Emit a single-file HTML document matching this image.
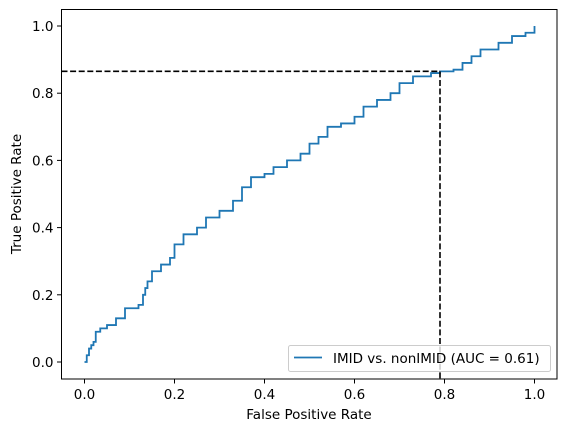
<!DOCTYPE html>
<html><head><meta charset="utf-8"><style>
body{margin:0;background:#fff}
svg text{font-family:"DejaVu Sans","Liberation Sans",sans-serif;font-size:13.5px;fill:#000}
</style></head><body>
<svg width="567" height="432" xmlns="http://www.w3.org/2000/svg">
<g id="g"></g>
</svg>
<script>
const fprValues=[0,0.005,0.01,0.015,0.02,0.025,0.035,0.05,0.07,0.09,0.12,0.13,0.135,0.14,0.15,0.17,0.19,0.2,0.22,0.25,0.27,0.3,0.33,0.35,0.37,0.4,0.42,0.45,0.48,0.5,0.52,0.54,0.57,0.6,0.62,0.65,0.68,0.7,0.73,0.77,0.79,0.82,0.84,0.86,0.88,0.92,0.95,0.98,1];
const tprValues=[0,0.02,0.04,0.05,0.06,0.09,0.1,0.11,0.13,0.16,0.17,0.2,0.22,0.24,0.27,0.29,0.31,0.35,0.38,0.4,0.43,0.45,0.48,0.52,0.55,0.56,0.58,0.6,0.62,0.65,0.67,0.70,0.71,0.73,0.76,0.78,0.8,0.83,0.85,0.86,0.865,0.87,0.89,0.91,0.93,0.95,0.97,0.98,1];
const xTicks=[0,0.2,0.4,0.6,0.8,1.0];
const yTicks=[0,0.2,0.4,0.6,0.8,1.0];
const cutFpr=0.79, cutTpr=0.865;
const X=v=>84.5+v*450, Y=v=>362-v*336;
const L=61.5,R=557,T=9.5,B=379;
const g=document.getElementById('g');const NS='http://www.w3.org/2000/svg';
function mk(t,a,txt){const e=document.createElementNS(NS,t);for(const k in a)e.setAttribute(k,a[k]);if(txt!==undefined)e.textContent=txt;g.appendChild(e);return e;}
let d=`M${X(fprValues[0])},${Y(tprValues[0])}`;
for(let i=1;i<fprValues.length;i++){d+=` H${X(fprValues[i])} V${Y(tprValues[i])}`;}
const c=mk('path',{d:d,fill:'none',stroke:'#1f77b4','stroke-width':1.8});


const h=mk('line',{x1:L,x2:X(cutFpr),y1:Y(cutTpr),y2:Y(cutTpr),stroke:'#000','stroke-width':1.6,'stroke-dasharray':'6,2.6'});


const v=mk('line',{x1:X(cutFpr),x2:X(cutFpr),y1:Y(cutTpr),y2:B,stroke:'#000','stroke-width':1.6,'stroke-dasharray':'6,2.6'});


const fr=mk('rect',{x:L,y:T,width:R-L,height:B-T,fill:'none',stroke:'#000','stroke-width':1});


xTicks.forEach(t=>{mk('line',{x1:X(t),x2:X(t),y1:B,y2:B+4.5,stroke:'#000'});
const e=mk('text',{x:X(t),y:B+20,'text-anchor':'middle'},t.toFixed(1));

});
yTicks.forEach(t=>{mk('line',{x1:L,x2:L-4.5,y1:Y(t),y2:Y(t),stroke:'#000'});
const e=mk('text',{x:L-8,y:Y(t)+5,'text-anchor':'end'},t.toFixed(1));

});
const xt=mk('text',{x:309,y:419,'text-anchor':'middle'},'False Positive Rate');


const yt=mk('text',{x:21,y:194,'text-anchor':'middle',transform:'rotate(-90 21 194)'},'True Positive Rate');


const lg=mk('rect',{x:288.5,y:345.5,width:262,height:26,rx:2,fill:'#fff','fill-opacity':0.8,stroke:'#ccc'});


mk('line',{x1:294,x2:322,y1:357.5,y2:357.5,stroke:'#1f77b4','stroke-width':1.8});
const lt=mk('text',{x:333,y:363},'IMID vs. nonIMID (AUC = 0.61)');


</script>
</body></html>
